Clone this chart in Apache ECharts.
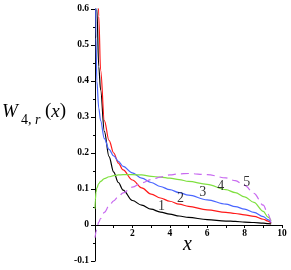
<!DOCTYPE html>
<html>
<head>
<meta charset="utf-8">
<script src="https://cdn.jsdelivr.net/npm/echarts@6/dist/echarts.min.js"></script>
<style>html,body{margin:0;padding:0;background:#fff}#c{width:291px;height:270px}</style>
</head>
<body>
<div id="c"></div>
<script>
const xGrid = [0, 0.02, 0.05, 0.1, 0.2, 0.3, 0.5, 0.75, 1, 1.25, 1.5, 2, 2.5, 3, 3.5, 4, 4.5, 5, 6, 7, 7.5, 8, 8.5, 9, 9.25, 9.42];
const curve1 = [null, 1.5, 0.9, 0.6, 0.44, 0.375, 0.26, 0.19, 0.147, 0.118, 0.097, 0.068, 0.055, 0.044, 0.036, 0.03, 0.025, 0.021, 0.015, 0.011, 0.01, 0.008, 0.007, 0.005, 0.004, 0.003];
const curve2 = [null, 2.0, 1.3, 0.85, 0.58, 0.43, 0.29, 0.235, 0.2, 0.172, 0.153, 0.125, 0.103, 0.086, 0.075, 0.066, 0.058, 0.052, 0.042, 0.035, 0.032, 0.028, 0.024, 0.016, 0.011, 0.005];
const curve3 = [null, 0.75, 0.52, 0.4, 0.325, 0.29, 0.24, 0.21, 0.192, 0.177, 0.163, 0.145, 0.13, 0.118, 0.107, 0.098, 0.09, 0.083, 0.07, 0.058, 0.051, 0.044, 0.035, 0.023, 0.015, 0.007];
const curve4 = [0.045, 0.07, 0.09, 0.103, 0.115, 0.121, 0.129, 0.134, 0.137, 0.139, 0.14, 0.14, 0.139, 0.135, 0.133, 0.13, 0.126, 0.121, 0.113, 0.098, 0.09, 0.078, 0.063, 0.038, 0.022, 0.012];
const curve5 = [-0.035, -0.028, -0.02, -0.008, 0.008, 0.018, 0.035, 0.053, 0.067, 0.079, 0.089, 0.105, 0.117, 0.126, 0.133, 0.139, 0.142, 0.143, 0.14, 0.131, 0.123, 0.11, 0.088, 0.055, 0.03, 0.005];
const curveNames = ['1', '2', '3', '4', '5'];
const labelX = [3.56, 4.57, 5.76, 6.72, 8.12];
const labelY = [0.051, 0.073, 0.09, 0.107, 0.118];
const colors = ['#000000', '#ff1a1a', '#4a66ff', '#7fe040', '#c86af0'];

const curves = [curve1, curve2, curve3, curve4, curve5];
const serif = '"Liberation Serif", "DejaVu Serif", serif';
const yMin = -0.1, yMax = 0.6;
const gTop = 9, gBottom = 9, H = 270;
const zeroBottom = gBottom + (H - gTop - gBottom) * (0 - yMin) / (yMax - yMin);

const series = curves.map((c, i) => ({
  type: 'line',
  xAxisIndex: 0, yAxisIndex: 0,
  data: xGrid.map((x, j) => [x, c[j]]),
  showSymbol: false,
  smooth: 0.35,
  smoothMonotone: 'x',
  clip: true,
  connectNulls: false,
  lineStyle: { color: colors[i], width: 1.2, type: i === 4 ? [8, 5] : 'solid' },
  z: 3
}));
series.push({
  type: 'scatter',
  xAxisIndex: 0, yAxisIndex: 0,
  symbol: 'circle',
  symbolSize: 1,
  itemStyle: { color: 'rgba(0,0,0,0)' },
  data: labelX.map((x, i) => ({ value: [x, labelY[i]], name: curveNames[i] })),
  label: { show: true, position: 'inside', formatter: p => p.name, fontFamily: serif, fontSize: 14, color: '#000' },
  z: 4
});

const chart = echarts.init(document.getElementById('c'), null, { renderer: 'canvas' });
chart.setOption({
  animation: false,
  backgroundColor: '#fff',
  grid: [
    { left: 95, right: 9, top: gTop, bottom: gBottom, containLabel: false, outerBoundsMode: 'none' },
    { left: 95, right: 9, top: gTop, bottom: zeroBottom, containLabel: false, outerBoundsMode: 'none' }
  ],
  xAxis: [
    { gridIndex: 0, type: 'value', min: 0, max: 10, interval: 1, show: false },
    {
      gridIndex: 1, type: 'value', min: 0, max: 10, interval: 1, position: 'bottom',
      axisLine: { show: true, onZero: false, lineStyle: { color: '#000', width: 1 } },
      axisTick: { show: true, length: 3, lineStyle: { color: '#000' } },
      axisLabel: { formatter: v => (v !== 0 && v % 2 === 0) ? String(v) : '', fontFamily: serif, fontWeight: 'bold', fontSize: 9.5, color: '#000', margin: 4 },
      splitLine: { show: false }
    }
  ],
  yAxis: [
    {
      gridIndex: 0, type: 'value', min: yMin, max: yMax, interval: 0.1,
      axisLine: { show: true, onZero: false, lineStyle: { color: '#000', width: 1 } },
      axisTick: { show: true, length: 4, lineStyle: { color: '#000' } },
      minorTick: { show: true, splitNumber: 2, length: 2, lineStyle: { color: '#000' } },
      axisLabel: { formatter: v => { const r = Math.round(v * 10) / 10; return r === 0 ? '0' : r.toFixed(1); }, fontFamily: serif, fontWeight: 'bold', fontSize: 9.5, color: '#000', margin: 6 },
      splitLine: { show: false }
    },
    { gridIndex: 1, type: 'value', min: 0, max: 1, show: false }
  ],
  graphic: [
    { type: 'text', left: 2, top: 102, style: { text: 'W', font: 'italic 19px ' + serif, fill: '#000' } },
    { type: 'text', left: 21, top: 113, style: { text: '{n|4, }{r|r}', rich: { n: { fontFamily: serif, fontSize: 14, fill: '#000' }, r: { fontFamily: serif, fontSize: 14, fontStyle: 'italic', fill: '#000' } } } },
    { type: 'text', left: 45, top: 102, style: { text: '{a|(}{b|x}{a|)}', rich: { a: { fontFamily: serif, fontSize: 19, fill: '#000' }, b: { fontFamily: serif, fontSize: 19, fontStyle: 'italic', fill: '#000' } } } },
    { type: 'text', left: 183, top: 235, style: { text: 'x', font: 'italic 20px ' + serif, fill: '#000' } }
  ],
  series: series
});
</script>
</body>
</html>
